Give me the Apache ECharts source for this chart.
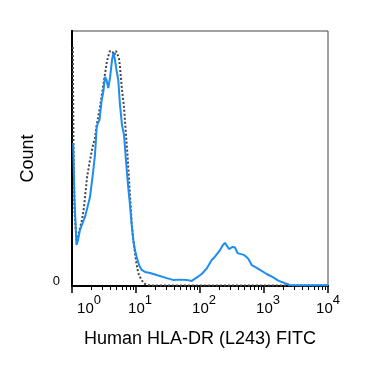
<!DOCTYPE html>
<html>
<head>
<meta charset="utf-8">
<script src="https://cdn.jsdelivr.net/npm/echarts@6/dist/echarts.min.js"></script>
<style>
html,body{margin:0;padding:0;background:#fff;}
#chart{width:375px;height:367px;}
</style>
</head>
<body>
<div id="chart"></div>
<script>
// x values are log10(fluorescence), y values are relative counts (0-100)
var blueX = [0.019,0.039,0.070,0.094,0.125,0.172,0.203,0.250,0.281,0.328,0.359,0.386,0.406,0.430,0.464,0.489,0.516,0.539,0.567,0.594,0.625,0.648,0.672,0.695,0.723,0.750,0.781,0.813,0.855,0.883,0.906,0.933,0.958,0.984,1.011,1.047,1.089,1.141,1.219,1.323,1.480,1.578,1.688,1.792,1.870,1.948,2.027,2.105,2.183,2.234,2.313,2.359,2.391,2.453,2.508,2.547,2.586,2.641,2.688,2.734,2.766,2.808,2.859,2.938,3.042,3.145,3.223,3.328,3.406,3.563,4.000];
var blueY = [56.1,33.7,16.1,18.0,22.0,25.1,27.1,31.8,34.9,44.3,51.4,62.4,63.9,65.1,72.9,76.1,82.0,80.8,77.6,81.6,88.6,91.4,88.6,84.7,80.8,71.0,63.1,59.2,45.5,37.6,31.8,23.9,18.0,14.1,11.4,8.2,6.3,5.5,5.1,4.3,3.1,2.4,2.5,2.4,2.0,3.3,4.7,6.9,10.2,11.5,14.1,16.1,16.9,14.5,15.3,15.1,12.9,12.5,12.2,11.2,10.2,8.2,7.5,6.3,4.7,3.4,2.1,1.1,0.4,0.3,0.3];
var grayX = [0.0125,0.023,0.039,0.070,0.109,0.156,0.1875,0.234,0.281,0.328,0.359,0.386,0.4375,0.484,0.542,0.5625,0.594,0.609,0.633,0.661,0.6875,0.711,0.734,0.750,0.777,0.8125,0.844,0.867,0.883,0.906,0.933,0.958,0.984,1.011,1.036,1.078,1.109,1.141,1.219,4.000];
var grayY = [93.7,53.3,29.8,18.0,21.2,25.9,31.0,42.4,49.4,55.3,58.0,63.1,70.2,78.0,87.5,89.8,92.2,92.5,91.8,90.6,92.2,92.0,89.4,85.9,78.0,70.2,59.2,51.4,44.7,35.7,24.7,18.0,12.9,8.2,5.1,2.7,1.6,0.8,0.2,0.2];
var decadeTicks = [0,1,2,3,4];
var decadeLabels = ['0','1','2','3','4'];
var minorTicks = [];
for (var d = 0; d < 4; d++) { for (var m = 2; m <= 9; m++) { minorTicks.push(d + Math.log10(m)); } }
var xTitle = 'Human HLA-DR (L243) FITC';
var yTitle = 'Count';

function pairs(xs, ys){ return xs.map(function(x,i){ return [x, ys[i]]; }); }

var font = "'Liberation Sans', Arial, sans-serif";
var chart = echarts.init(document.getElementById('chart'), null, {renderer:'canvas'});
chart.setOption({
  animation: false,
  backgroundColor: '#fff',
  grid: {left:72, right:47, top:31, bottom:81, show:true, borderColor:'#444', borderWidth:1},
  xAxis: [{
    type:'value', min:0, max:4, interval:1,
    name: xTitle, nameLocation:'middle', nameGap:44,
    nameTextStyle:{fontFamily:font, fontSize:18, color:'#000'},
    axisLine:{show:true, onZero:false, lineStyle:{color:'#000', width:2}},
    axisTick:{show:true, length:7, lineStyle:{color:'#000', width:1.5}},
    splitLine:{show:false},
    axisLabel:{
      margin:8, fontFamily:font, color:'#000',
      formatter:function(v){
        var i = decadeTicks.indexOf(Math.round(v));
        var lab = decadeLabels[i];
        if (i === 0) return '{f|10}{s|' + lab + '}';
        if (i === decadeTicks.length - 1) return '{l|10}{s|' + lab + '}';
        return '{a|10}{s|' + lab + '}';
      },
      rich:{
        a:{fontFamily:font, fontSize:15, color:'#000', padding:[0,0,0,8], verticalAlign:'bottom', lineHeight:22},
        f:{fontFamily:font, fontSize:15, color:'#000', padding:[0,0,0,34], verticalAlign:'bottom', lineHeight:22},
        l:{fontFamily:font, fontSize:15, color:'#000', padding:[0,0,0,0], verticalAlign:'bottom', lineHeight:22},
        s:{fontFamily:font, fontSize:13, color:'#000', verticalAlign:'top', lineHeight:15}
      }
    }
  },{
    type:'value', min:0, max:4, position:'bottom',
    axisLine:{show:false},
    axisTick:{show:true, length:4, customValues:minorTicks, lineStyle:{color:'#000', width:1}},
    axisLabel:{show:false},
    splitLine:{show:false}
  }],
  yAxis: [{
    type:'value', min:0, max:100, interval:100,
    name: yTitle, nameLocation:'middle', nameGap:35,
    nameTextStyle:{fontFamily:font, fontSize:18, color:'#000'},
    axisLine:{show:true, lineStyle:{color:'#000', width:2}},
    axisTick:{show:false},
    splitLine:{show:false},
    axisLabel:{
      margin:12, fontFamily:font, fontSize:13, color:'#000', verticalAlign:'bottom', lineHeight:10,
      formatter:function(v){ return v === 0 ? '0' : ''; }
    }
  },{
    type:'value', min:0, max:100, position:'right',
    axisLine:{show:true, lineStyle:{color:'#000', width:2}},
    axisTick:{show:false}, axisLabel:{show:false}, splitLine:{show:false}
  }],
  series: [{
    type:'line', data: pairs(grayX, grayY), showSymbol:false, symbol:'none',
    lineStyle:{color:'#444', width:2, type:[2,2]}, z:2
  },{
    type:'line', data: pairs(blueX, blueY), showSymbol:false, symbol:'none',
    lineStyle:{color:'#1E8CF0', width:2}, z:3
  }]
});
</script>
</body>
</html>
